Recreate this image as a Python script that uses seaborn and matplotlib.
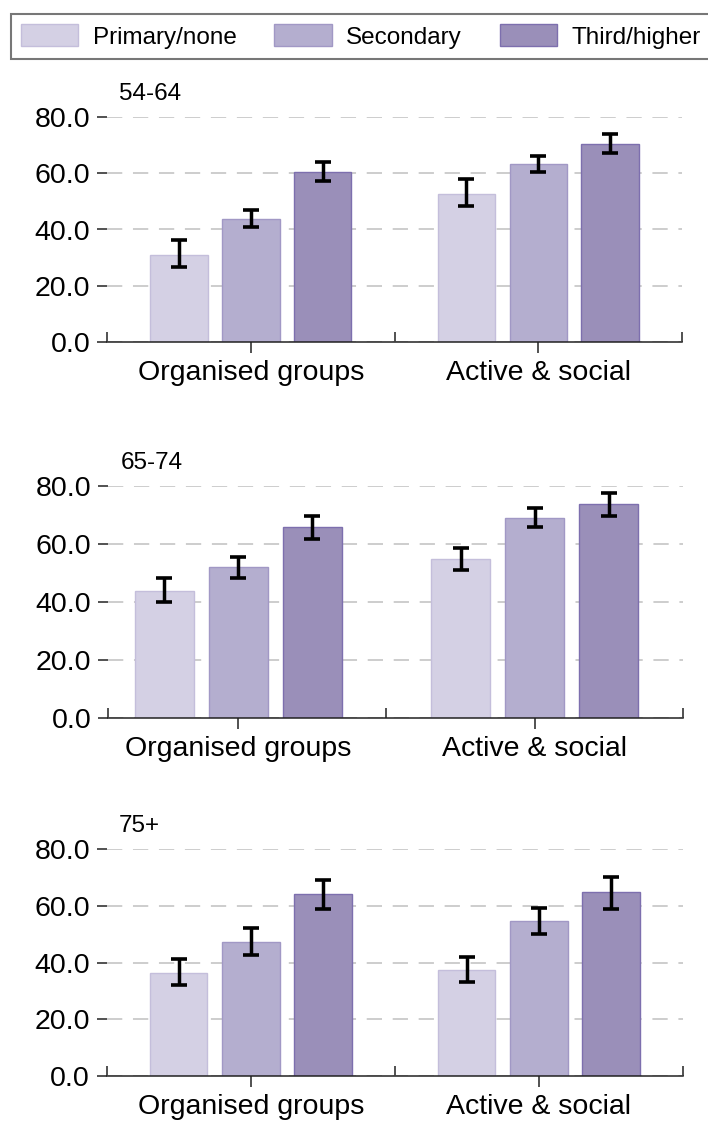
import numpy as np
import pandas as pd
import matplotlib.pyplot as plt
from matplotlib.patches import Patch
import seaborn as sns

# 数据
activities = ['Organised groups', 'Active & social']
education = ['Primary/none', 'Secondary', 'Third/higher']
age_groups = ['54-64', '65-74', '75+']

# 每行一个教育水平, 每列一个活动
pct_54_64 = [[31.0, 52.7], [43.7, 63.2], [60.5, 70.6]]
low_54_64 = [[26.6, 48.2], [40.8, 60.4], [57.3, 67.3]]
high_54_64 = [[36.1, 58.0], [47.0, 66.3], [63.9, 73.9]]

pct_65_74 = [[43.9, 54.8], [51.9, 69.1], [65.8, 73.7]]
low_65_74 = [[39.8, 51.0], [48.1, 65.7], [61.8, 69.6]]
high_65_74 = [[48.1, 58.7], [55.6, 72.3], [69.6, 77.5]]

pct_75 = [[36.4, 37.4], [47.3, 54.7], [64.2, 64.8]]
low_75 = [[32.2, 33.3], [42.6, 50.0], [59.1, 59.1]]
high_75 = [[41.3, 41.9], [52.4, 59.2], [69.1, 70.1]]

y_ticks = [0, 20, 40, 60, 80]

# 样式
fill_colors = ['#d4d0e4', '#b4aecf', '#9a8fb9']
edge_colors = ['#c4bedb', '#a198c5', '#7d6fae']

sns.set_style('white')
plt.rcParams['font.family'] = ['Liberation Sans', 'DejaVu Sans']
plt.rcParams['text.color'] = 'black'
plt.rcParams['xtick.color'] = 'black'
plt.rcParams['ytick.color'] = 'black'

W, H = 708, 1122
fig = plt.figure(figsize=(W / 100, H / 100), dpi=100)

# 各面板的像素位置 (left, right, top, bottom)
panel_px = [(107, 682, 117.3, 341.7), (108, 682.7, 486, 717.7), (106.7, 682.7, 849.3, 1076)]
xlims = [(-0.5, 1.5), (-0.44, 1.5), (-0.5, 1.5)]

panels = [(pct_54_64, low_54_64, high_54_64),
          (pct_65_74, low_65_74, high_65_74),
          (pct_75, low_75, high_75)]

for (l, r, t, b), xlim, label, (pct, low, high) in zip(panel_px, xlims, age_groups, panels):
    ax = fig.add_axes([l / W, 1 - b / H, (r - l) / W, (b - t) / H])

    rows = []
    for i, edu in enumerate(education):
        for j, act in enumerate(activities):
            rows.append({'activity': act, 'education': edu, 'pct': pct[i][j]})
    df = pd.DataFrame(rows)

    sns.barplot(data=df, x='activity', y='pct', hue='education',
                order=activities, hue_order=education, palette=fill_colors,
                saturation=1, width=0.75, gap=0.2, errorbar=None,
                linewidth=1.0, legend=False, ax=ax)

    # 误差线
    bar_conts = list(ax.containers)
    for i, cont in enumerate(bar_conts):
        centers, heights = [], []
        for bar in cont:
            bar.set_edgecolor(edge_colors[i])
            centers.append(bar.get_x() + bar.get_width() / 2)
            heights.append(bar.get_height())
        heights = np.array(heights)
        yerr = [heights - np.array(low[i]), np.array(high[i]) - heights]
        ax.errorbar(centers, heights, yerr=yerr, fmt='none', ecolor='black',
                    elinewidth=2.5, capsize=5.8, capthick=2.6, zorder=5)

    ax.set_xlim(*xlim)
    ax.set_ylim(0, 80)
    ax.set_yticks(y_ticks)
    ax.yaxis.set_major_formatter('{x:.1f}')
    ax.set_xlabel('')
    ax.set_ylabel('')

    ax.yaxis.grid(True, linestyle=(0, (10, 7)), color='#c0c0c0', linewidth=1.1)
    ax.set_axisbelow(True)

    for s in ['left', 'top', 'right']:
        ax.spines[s].set_visible(False)
    ax.spines['bottom'].set_color('#222222')
    ax.spines['bottom'].set_linewidth(1.1)

    ax.set_xticks([xlim[0], 0.5, xlim[1]], minor=True)
    ax.tick_params(axis='y', direction='out', length=7, width=1.1, pad=5,
                   labelsize=20.5, color='#222222', left=True)
    ax.tick_params(axis='x', which='major', direction='out', length=8, width=1.1,
                   pad=5, labelsize=20.5, color='#222222', bottom=True)
    ax.tick_params(axis='x', which='minor', direction='in', length=7, width=1.1,
                   color='#222222', bottom=True)

    ax.annotate(label, xy=(0, 1), xycoords='axes fraction', xytext=(9, 16.5),
                textcoords='offset points', ha='left', va='center', fontsize=17.5)

# 图例
handles = [Patch(facecolor=c, edgecolor=e, linewidth=1) for c, e in zip(fill_colors, edge_colors)]
leg = fig.legend(handles, education, loc='upper left', bbox_to_anchor=(11 / W, 1 - 14 / H),
                 ncol=3, fontsize=17.5, frameon=True, fancybox=False, edgecolor='#555555',
                 borderpad=0.42, handlelength=2.35, handleheight=1.03, handletextpad=0.6,
                 columnspacing=1.55, borderaxespad=0)
leg.get_frame().set_linewidth(1.5)

fig.savefig('out.png', dpi=100)
